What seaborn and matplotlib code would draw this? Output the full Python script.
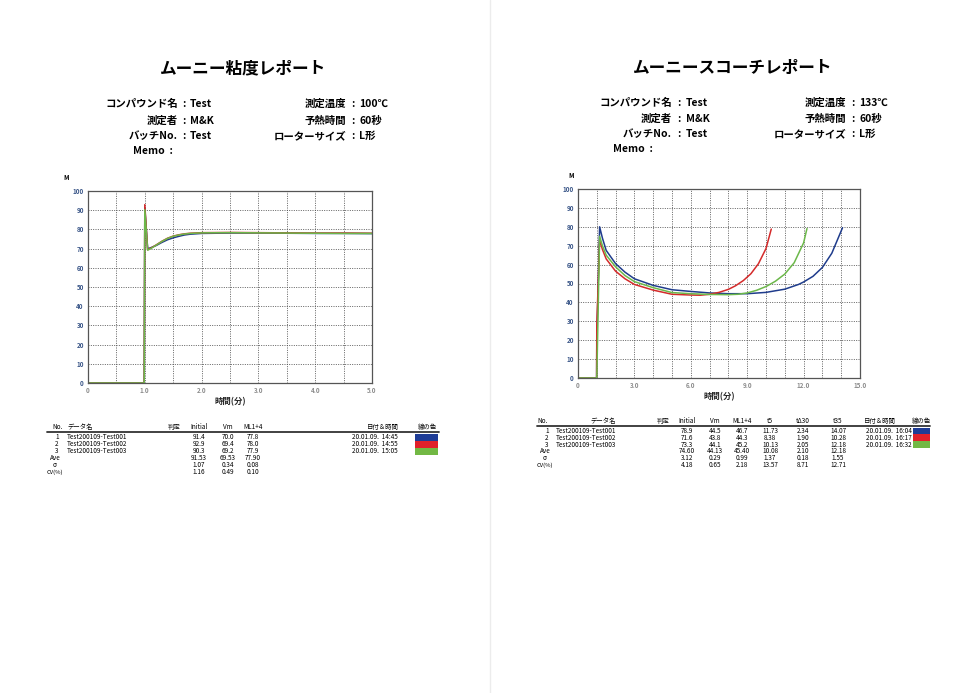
import numpy as np
import pandas as pd
import matplotlib
matplotlib.use("Agg")
import matplotlib.pyplot as plt
import seaborn as sns
from matplotlib.patches import Rectangle
from matplotlib.lines import Line2D

# ---- data: Mooney viscosity (left page) ----
visc_blue_t = [0, 0.99, 1.0, 1.05, 1.1, 1.2, 1.3, 1.4, 1.5, 1.6, 1.7, 1.8, 2.0, 2.5, 3.0, 3.5, 4.0, 4.5, 5.0]
visc_blue_m = [0, 0, 91.4, 70.0, 70.4, 71.6, 73.2, 74.6, 75.6, 76.4, 77.1, 77.5, 77.9, 78.1, 78.1, 78.0, 77.9, 77.9, 77.8]
visc_red_t = [0, 0.99, 1.0, 1.05, 1.1, 1.2, 1.3, 1.4, 1.5, 1.6, 1.7, 1.8, 2.0, 2.5, 3.0, 3.5, 4.0, 4.5, 5.0]
visc_red_m = [0, 0, 92.9, 69.4, 70.1, 71.9, 73.8, 75.4, 76.5, 77.2, 77.7, 78.0, 78.3, 78.4, 78.3, 78.2, 78.1, 78.1, 78.0]
visc_green_t = [0, 0.99, 1.0, 1.05, 1.1, 1.2, 1.3, 1.4, 1.5, 1.6, 1.7, 1.8, 2.0, 2.5, 3.0, 3.5, 4.0, 4.5, 5.0]
visc_green_m = [0, 0, 90.3, 69.2, 69.9, 71.8, 73.7, 75.3, 76.4, 77.1, 77.6, 77.9, 78.2, 78.3, 78.2, 78.1, 78.0, 77.9, 77.9]

# ---- data: Mooney scorch (right page) ----
sc_blue_t = [0, 0.99, 1.0, 1.15, 1.3, 1.5, 2.0, 2.5, 3.0, 4.0, 5.0, 6.0, 7.0, 8.0, 9.0, 10.0, 11.0, 11.73, 12.0, 12.5, 13.0, 13.5, 14.07]
sc_blue_m = [0, 0, 20, 80.0, 74.0, 67.5, 60.5, 56.0, 52.5, 49.0, 46.7, 45.8, 45.0, 44.6, 44.6, 45.3, 47.0, 49.5, 50.8, 53.8, 58.5, 66.0, 79.5]
sc_red_t = [0, 0.99, 1.0, 1.15, 1.3, 1.5, 2.0, 2.5, 3.0, 4.0, 5.0, 6.0, 6.5, 7.0, 7.5, 8.0, 8.38, 8.8, 9.2, 9.6, 10.0, 10.28]
sc_red_m = [0, 0, 28, 73.0, 68.0, 63.0, 56.5, 52.5, 49.5, 46.5, 44.3, 43.9, 43.8, 44.3, 45.3, 46.9, 48.8, 51.6, 55.2, 60.5, 68.5, 78.8]
sc_green_t = [0, 0.99, 1.0, 1.15, 1.3, 1.5, 2.0, 2.5, 3.0, 4.0, 5.0, 6.0, 7.0, 8.0, 8.5, 9.0, 9.5, 10.0, 10.13, 10.5, 11.0, 11.5, 12.0, 12.18]
sc_green_m = [0, 0, 0, 75.0, 70.0, 65.0, 58.8, 54.2, 51.0, 47.8, 45.2, 44.6, 44.2, 44.1, 44.3, 45.0, 46.4, 48.4, 49.1, 51.2, 55.0, 61.0, 71.5, 79.1]

samples = ["Test200109-Test001", "Test200109-Test002", "Test200109-Test003"]
line_colors = ["#1f3c8c", "#d42a2a", "#6cb84a"]
swatch_colors = ["#1e3c96", "#e0202a", "#72b844"]

# ---- table data ----
visc_initial = ["91.4", "92.9", "90.3"]
visc_vm = ["70.0", "69.4", "69.2"]
visc_ml = ["77.8", "78.0", "77.9"]
visc_dates = ["20.01.09.  14:45", "20.01.09.  14:55", "20.01.09.  15:05"]
visc_stats = [["91.53", "69.53", "77.90"], ["1.07", "0.34", "0.08"], ["1.16", "0.49", "0.10"]]

sc_initial = ["78.9", "71.6", "73.3"]
sc_vm = ["44.5", "43.8", "44.1"]
sc_ml = ["46.7", "44.3", "45.2"]
sc_t5 = ["11.73", "8.38", "10.13"]
sc_td30 = ["2.34", "1.90", "2.05"]
sc_t35 = ["14.07", "10.28", "12.18"]
sc_dates = ["20.01.09.  16:04", "20.01.09.  16:17", "20.01.09.  16:32"]
sc_stats = [["74.60", "44.13", "45.40", "10.08", "2.10", "12.18"],
            ["3.12", "0.29", "0.99", "1.37", "0.18", "1.55"],
            ["4.18", "0.65", "2.18", "13.57", "8.71", "12.71"]]
stat_labels = ["Ave", "σ", "CV(%)"]

y_ticks = [0, 10, 20, 30, 40, 50, 60, 70, 80, 90, 100]
y_tick_labels = ["0", "10", "20", "30", "40", "50", "60", "70", "80", "90", "100"]
visc_x_ticks = [0, 1, 2, 3, 4, 5]
visc_x_labels = ["0", "1.0", "2.0", "3.0", "4.0", "5.0"]
sc_x_ticks = [0, 3, 6, 9, 12, 15]
sc_x_labels = ["0", "3.0", "6.0", "9.0", "12.0", "15.0"]


def long_frame(ts, ms):
    rows = []
    for name, t, m in zip(samples, ts, ms):
        for a, b in zip(t, m):
            rows.append({"sample": name, "t": a, "m": b})
    return pd.DataFrame(rows)


visc_df = long_frame([visc_blue_t, visc_red_t, visc_green_t], [visc_blue_m, visc_red_m, visc_green_m])
sc_df = long_frame([sc_blue_t, sc_red_t, sc_green_t], [sc_blue_m, sc_red_m, sc_green_m])

sns.set_style("white")
plt.rcParams["font.family"] = ["Noto Sans CJK JP", "DejaVu Sans"]

W, H = 980, 693
fig = plt.figure(figsize=(9.8, 6.93), dpi=100)
fig.patch.set_facecolor("white")


def fx(x):
    return x / W


def fy(y):
    return 1 - y / H


def txt(x, y, s, size=7.5, ha="left", weight="normal", color="black"):
    fig.text(fx(x), fy(y), s, fontsize=size, ha=ha, va="center", weight=weight, color=color)


# page divider
fig.add_artist(Line2D([fx(490), fx(490)], [0, 1], color="#ececec", lw=1.0, transform=fig.transFigure))


def style_axes(ax, xmax, grid_step, xt, xl):
    ax.set_xlim(0, xmax)
    ax.set_ylim(0, 100)
    ax.set_xticks(xt)
    ax.set_xticklabels(xl)
    ax.set_xticks(np.arange(0, xmax + 0.001, grid_step), minor=True)
    ax.set_yticks(y_ticks)
    ax.set_yticklabels(y_tick_labels)
    ax.grid(True, which="both", color="#4a4a4a", linestyle=(0, (1.2, 1.6)), linewidth=0.6)
    ax.tick_params(which="both", length=0)
    ax.tick_params(axis="y", labelsize=4.5, labelcolor="#3a5688", pad=3)
    ax.tick_params(axis="x", labelsize=4.5, labelcolor="#8c8c8c", pad=3)
    for lab in ax.get_xticklabels() + ax.get_yticklabels():
        lab.set_fontweight("bold")
    for sp in ax.spines.values():
        sp.set_color("#555555")
        sp.set_linewidth(0.9)
    ax.set_xlabel("時間(分)", fontsize=6, weight="bold", labelpad=2)
    ax.set_ylabel("")


# ---- left chart ----
ax1 = fig.add_axes([fx(88), fy(383), fx(372) - fx(88), fy(191) - fy(383)])
sns.lineplot(data=visc_df, x="t", y="m", hue="sample", units="sample", estimator=None, sort=False,
             palette=line_colors, linewidth=1.1, ax=ax1, legend=False)
style_axes(ax1, 5, 0.5, visc_x_ticks, visc_x_labels)
txt(63, 178, "M", size=4.5, weight="bold")

# ---- right chart ----
ax2 = fig.add_axes([fx(578), fy(378), fx(860) - fx(578), fy(189) - fy(378)])
sns.lineplot(data=sc_df, x="t", y="m", hue="sample", units="sample", estimator=None, sort=False,
             palette=line_colors, linewidth=1.1, ax=ax2, legend=False)
style_axes(ax2, 15, 1.0, sc_x_ticks, sc_x_labels)
txt(568, 176, "M", size=4.5, weight="bold")

# ---- headers ----
txt(243, 68, "ムーニー粘度レポート", size=12, ha="center", weight="bold")
txt(733, 68, "ムーニースコーチレポート", size=12, ha="center", weight="bold")

left_info = [("コンパウンド名", "Test", 104), ("測定者", "M&K", 121), ("バッチNo.", "Test", 136)]
for lab, val, y in left_info:
    txt(178, y, lab, ha="right", weight="bold")
    txt(184, y, ":", ha="center", weight="bold")
    txt(190, y, val, weight="bold")
txt(133, 151, "Memo  :", weight="bold")
left_info2 = [("測定温度", "100℃", 104), ("予熱時間", "60秒", 121), ("ローターサイズ", "L形", 136)]
for lab, val, y in left_info2:
    txt(346, y, lab, ha="right", weight="bold")
    txt(353, y, ":", ha="center", weight="bold")
    txt(359, y, val, weight="bold")

right_info = [("コンパウンド名", "Test", 103), ("測定者", "M&K", 119), ("バッチNo.", "Test", 134)]
for lab, val, y in right_info:
    txt(672, y, lab, ha="right", weight="bold")
    txt(679, y, ":", ha="center", weight="bold")
    txt(686, y, val, weight="bold")
txt(613, 149, "Memo  :", weight="bold")
right_info2 = [("測定温度", "133℃", 103), ("予熱時間", "60秒", 119), ("ローターサイズ", "L形", 134)]
for lab, val, y in right_info2:
    txt(846, y, lab, ha="right", weight="bold")
    txt(853, y, ":", ha="center", weight="bold")
    txt(859, y, val, weight="bold")

# ---- left table ----
ts = 4.6
hy, ry = 427, [437, 444, 451, 458, 465, 472]
txt(52, hy, "No.", size=ts, ha="left")
txt(67, hy, "データ名", size=ts)
for x, s in [(174, "判定"), (199, "Initial"), (228, "Vm"), (253, "ML1+4"), (383, "日付＆時間"), (427, "線の色")]:
    txt(x, hy, s, size=ts, ha="center")
fig.add_artist(Line2D([fx(47), fx(439)], [fy(431.5), fy(431.5)], color="#333333", lw=1.3, transform=fig.transFigure))
for i in range(3):
    y = ry[i]
    txt(57, y, str(i + 1), size=ts, ha="center")
    txt(67, y, samples[i], size=ts)
    txt(199, y, visc_initial[i], size=ts, ha="center")
    txt(228, y, visc_vm[i], size=ts, ha="center")
    txt(253, y, visc_ml[i], size=ts, ha="center")
    txt(398, y, visc_dates[i], size=ts, ha="right")
    fig.add_artist(Rectangle((fx(415), fy(y + 3.5)), fx(23), 7 / H, facecolor=swatch_colors[i],
                             edgecolor="none", transform=fig.transFigure))
for j, lab in enumerate(stat_labels):
    y = ry[3 + j]
    txt(55, y, lab, size=ts - 0.4 if j == 2 else ts, ha="center")
    for x, s in zip([199, 228, 253], visc_stats[j]):
        txt(x, y, s, size=ts, ha="center")

# ---- right table ----
hy, ry = 421, [431, 437.8, 444.6, 451.4, 458.2, 465]
txt(543, hy, "No.", size=ts, ha="center")
for x, s in [(603, "データ名"), (663, "判定"), (687, "Initial"), (715, "Vm"), (742, "ML1+4"), (770, "t5"),
             (803, "tΔ30"), (838, "t35"), (880, "日付＆時間"), (921, "線の色")]:
    txt(x, hy, s, size=ts, ha="center")
fig.add_artist(Line2D([fx(537), fx(930)], [fy(425.5), fy(425.5)], color="#333333", lw=1.3, transform=fig.transFigure))
for i in range(3):
    y = ry[i]
    txt(547, y, str(i + 1), size=ts, ha="center")
    txt(556, y, samples[i], size=ts)
    for x, s in zip([687, 715, 742, 770, 803, 838],
                    [sc_initial[i], sc_vm[i], sc_ml[i], sc_t5[i], sc_td30[i], sc_t35[i]]):
        txt(x, y, s, size=ts, ha="center")
    txt(912, y, sc_dates[i], size=ts, ha="right")
    fig.add_artist(Rectangle((fx(913), fy(y + 3.4)), fx(17), 6.8 / H, facecolor=swatch_colors[i],
                             edgecolor="none", transform=fig.transFigure))
for j, lab in enumerate(stat_labels):
    y = ry[3 + j]
    txt(545, y, lab, size=ts - 0.4 if j == 2 else ts, ha="center")
    for x, s in zip([687, 715, 742, 770, 803, 838], sc_stats[j]):
        txt(x, y, s, size=ts, ha="center")

fig.savefig("out.png", dpi=100, facecolor="white")
